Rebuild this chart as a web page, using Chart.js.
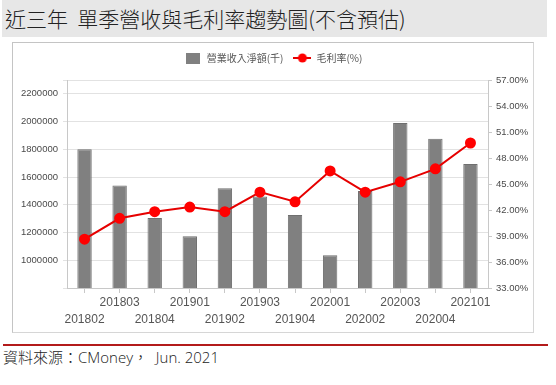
<!DOCTYPE html>
<html>
<head>
<meta charset="utf-8">
<script src="https://cdn.jsdelivr.net/npm/chart.js@4"></script>
<style>
  body { margin: 0; width: 556px; height: 385px; background: #fff; position: relative; overflow: hidden; font-family: "Noto Sans CJK TC", "Noto Sans", sans-serif; }
  #title { position: absolute; left: 2px; top: 0; width: 545px; height: 37px; background: #e7e7e7; color: #222; font-size: 21px; font-weight: 300; line-height: 36px; padding-left: 3px; box-sizing: border-box; white-space: pre; }
  #frame { position: absolute; left: 12px; top: 42px; width: 522px; height: 291px; border: 1px solid #c4c4c4; border-right-color: #d6d6d6; border-bottom-color: #d6d6d6; box-sizing: border-box; }
  #redline { position: absolute; left: 3px; top: 344px; width: 545px; height: 2px; background: #b31b1b; }
  #source { position: absolute; left: 3px; top: 346px; font-family: "Open Sans", "Noto Sans CJK TC", sans-serif; font-size: 15px; font-weight: 300; color: #222; white-space: pre; }
</style>
</head>
<body>
<div id="title">近三年  單季營收與毛利率趨勢圖(不含預估)</div>
<div id="frame"><canvas id="myChart" width="520" height="289"></canvas></div>
<div id="redline"></div>
<div id="source">資料來源：CMoney，  Jun. 2021</div>
<script>
//data

const quarters = ['201802','201803','201804','201901','201902','201903','201904','202001','202002','202003','202004','202101'];
const revenue = [1800000,1540000,1305000,1173000,1520000,1460000,1327000,1036000,1500000,1990000,1876000,1695000];
const grossMargin = [38.63,41.04,41.81,42.34,41.81,44.06,42.95,46.51,44.06,45.25,46.75,49.73];
const revenueTicks = [800000,1000000,1200000,1400000,1600000,1800000,2000000,2200000,2300000];

const revenueLabel = '營業收入淨額(千)';
const marginLabel = '毛利率(%)';

//legend icons

const rectIcon = document.createElement('canvas');
rectIcon.width = 14; rectIcon.height = 11;
let c = rectIcon.getContext('2d');
c.fillStyle = '#808080';
c.fillRect(0, 0, 14, 11);

const lineIcon = document.createElement('canvas');
lineIcon.width = 18; lineIcon.height = 10;
c = lineIcon.getContext('2d');
c.strokeStyle = '#e60000'; c.lineWidth = 2;
c.beginPath(); c.moveTo(0, 5); c.lineTo(18, 5); c.stroke();
c.fillStyle = '#ff0000';
c.beginPath(); c.arc(9, 5, 4.5, 0, Math.PI * 2); c.fill();

// extra room under the legend
const legendGap = {
  id: 'legendGap',
  afterInit(chart) {
    const fit = chart.legend.fit;
    chart.legend.fit = function () {
      fit.call(this);
      this.height += 7;
    };
  }
};

//config

const tickFont = { family: "'Liberation Sans', Arial, sans-serif", size: 9.5 };

const config = {
  type: 'bar',
  data: {
    labels: quarters,
    datasets: [{
      type: 'bar',
      label: revenueLabel,
      data: revenue,
      yAxisID: 'y',
      backgroundColor: '#808080',
      borderColor: '#6f6f6f',
      borderWidth: 1,
      barPercentage: 0.82,
      categoryPercentage: 0.5,
      order: 1
    }, {
      type: 'line',
      label: marginLabel,
      data: grossMargin,
      yAxisID: 'y1',
      borderColor: '#e60000',
      borderWidth: 2,
      backgroundColor: '#ff0000',
      pointBackgroundColor: '#ff0000',
      pointBorderColor: '#ff0000',
      pointRadius: 4.5,
      tension: 0,
      order: 0
    }]
  },
  plugins: [legendGap],
  options: {
    responsive: false,
    animation: false,
    layout: { padding: { top: 0, left: 0, right: 0, bottom: 0 } },
    plugins: {
      tooltip: { enabled: false },
      legend: {
        position: 'top',
        labels: {
          usePointStyle: true,
          pointStyleWidth: 18,
          boxHeight: 10,
          padding: 10,
          color: '#555',
          font: { family: "'Noto Sans CJK TC', sans-serif", size: 10 },
          generateLabels(chart) {
            const items = Chart.defaults.plugins.legend.labels.generateLabels(chart);
            items.forEach(it => { it.pointStyle = it.datasetIndex === 0 ? rectIcon : lineIcon; });
            return items.sort((a, b) => a.datasetIndex - b.datasetIndex);
          }
        }
      }
    },
    scales: {
      x: {
        offset: true,
        grid: { offset: false, drawOnChartArea: false, drawTicks: true, tickLength: 5, color: '#c8c8c8' },
        border: { color: '#c8c8c8' },
        ticks: {
          autoSkip: false,
          maxRotation: 0,
          padding: 1,
          color: '#555',
          font: { family: "'Liberation Sans', Arial, sans-serif", size: 12, lineHeight: 1.45 },
          callback: (v, i) => i % 2 ? [quarters[i], ''] : ['', quarters[i]]
        },
        afterFit: s => { s.height = 44; }
      },
      y: {
        position: 'left',
        min: revenueTicks[0],
        max: revenueTicks[revenueTicks.length - 1],
        grid: { color: '#e2e2e2', tickLength: 4 },
        border: { color: '#c8c8c8' },
        afterBuildTicks: s => { s.ticks = revenueTicks.map(v => ({ value: v })); },
        ticks: {
          padding: 5,
          color: '#4a4a4a',
          font: tickFont,
          callback: (v, i) => (i === 0 || i === revenueTicks.length - 1) ? '' : v
        },
        afterFit: s => { s.width = 54; }
      },
      y1: {
        position: 'right',
        min: 33,
        max: 57,
        grid: { drawOnChartArea: false, tickLength: 4, color: '#c8c8c8' },
        border: { color: '#c8c8c8' },
        ticks: {
          stepSize: 3,
          padding: 4,
          color: '#4a4a4a',
          font: tickFont,
          callback: v => v.toFixed(2) + '%'
        },
        afterFit: s => { s.width = 45; }
      }
    }
  }
};

//render

const myChart = new Chart(document.getElementById('myChart'), config);
</script>
</body>
</html>
